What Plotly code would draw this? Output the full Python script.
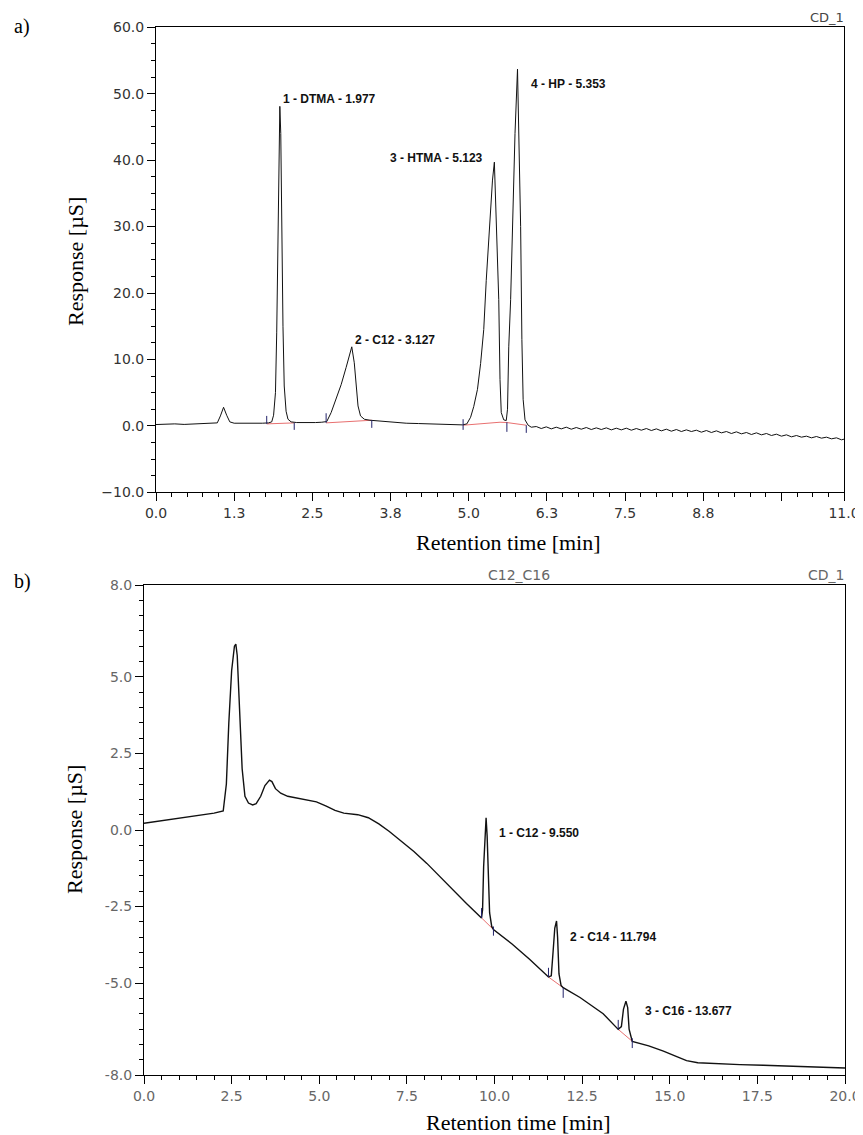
import plotly.graph_objects as go

# ---------------- DATA ----------------
# Panel a) chromatogram (retention time [min], response [uS])
a_time = [0.00, 0.15, 0.30, 0.45, 0.60, 0.75, 0.90, 0.98, 1.03, 1.08, 1.13, 1.18, 1.25, 1.40, 1.55, 1.70,
          1.80, 1.85, 1.88, 1.91, 1.93, 1.95, 1.97, 1.98, 1.995, 2.01, 2.03, 2.05, 2.08, 2.11, 2.16, 2.25,
          2.40, 2.55, 2.65, 2.73, 2.80, 2.88, 2.96, 3.04, 3.10, 3.13, 3.17, 3.20, 3.23, 3.27, 3.33, 3.42,
          3.55, 3.70, 3.85, 4.00, 4.20, 4.40, 4.60, 4.80, 4.90, 4.97, 5.03, 5.08, 5.14, 5.19, 5.24, 5.28,
          5.33, 5.38, 5.41, 5.43, 5.46, 5.48, 5.50, 5.52, 5.56, 5.60, 5.62, 5.64, 5.67, 5.70, 5.74, 5.78,
          5.80, 5.83, 5.85, 5.87, 5.90, 5.95, 6.00,
          6.08, 6.16, 6.24, 6.32, 6.40, 6.48, 6.56, 6.64, 6.72, 6.80, 6.88, 6.96, 7.04, 7.12, 7.20, 7.28,
          7.36, 7.44, 7.52, 7.60, 7.68, 7.76, 7.84, 7.92, 8.00, 8.08, 8.16, 8.24, 8.32, 8.40, 8.48, 8.56,
          8.64, 8.72, 8.80, 8.88, 8.96, 9.04, 9.12, 9.20, 9.28, 9.36, 9.44, 9.52, 9.60, 9.68, 9.76, 9.84,
          9.92, 10.00, 10.08, 10.16, 10.24, 10.32, 10.40, 10.48, 10.56, 10.64, 10.72, 10.80, 10.88, 10.96, 11.00]
a_resp = [0.20, 0.25, 0.30, 0.22, 0.28, 0.30, 0.35, 0.45, 1.50, 2.80, 1.60, 0.60, 0.40, 0.38, 0.42, 0.40,
          0.45, 0.60, 1.60, 5.0, 14.0, 30.0, 44.0, 48.1, 44.0, 30.0, 15.0, 6.0, 2.2, 1.0, 0.6, 0.5,
          0.45, 0.5, 0.55, 0.65, 2.0, 4.0, 6.2, 8.8, 11.0, 11.9, 9.5, 6.5, 3.0, 1.5, 1.0, 0.85,
          0.75, 0.65, 0.50, 0.40, 0.35, 0.30, 0.25, 0.20, 0.15, 0.30, 1.3, 2.9, 5.5, 9.4, 14.5, 21.9,
          30.0, 37.0, 39.7, 34.0, 26.0, 19.0, 7.0, 2.0, 0.9, 0.8, 2.5, 11.9, 19.0, 30.0, 44.0, 53.7,
          46.0, 30.0, 13.0, 4.0, 0.9, 0.1, -0.2,
          -0.10, -0.40, -0.15, -0.45, -0.20, -0.45, -0.20, -0.50, -0.25, -0.50, -0.25, -0.55, -0.30, -0.55, -0.30, -0.60,
          -0.35, -0.60, -0.35, -0.65, -0.40, -0.65, -0.40, -0.70, -0.45, -0.75, -0.50, -0.80, -0.55, -0.85, -0.60, -0.85,
          -0.65, -0.95, -0.70, -1.00, -0.75, -1.05, -0.85, -1.15, -0.90, -1.20, -1.00, -1.30, -1.05, -1.35, -1.15, -1.45,
          -1.25, -1.55, -1.35, -1.65, -1.45, -1.70, -1.55, -1.80, -1.60, -1.85, -1.70, -1.95, -1.80, -2.10, -2.00]

# integration baselines (red) for panel a), segments separated by None
a_base_t = [1.77, 2.21, None, 2.72, 3.45, None, 4.91, 5.50, 5.61, 5.92]
a_base_v = [0.30, 0.45, None, 0.45, 0.85, None, 0.10, 0.55, 0.50, 0.10]
# peak delimiter ticks for panel a): time, from, to
a_mark_t = [1.77, 2.21, 2.72, 3.45, 4.91, 5.61, 5.92]
a_mark_v0 = [0.3, 0.45, 0.45, 0.85, -0.6, 0.55, 0.1]
a_mark_v1 = [1.5, -0.6, 1.9, -0.3, 1.0, -0.9, -1.05]

a_labels = ["1 - DTMA - 1.977", "2 - C12 - 3.127", "3 - HTMA - 5.123", "4 - HP - 5.353"]
a_label_x = [2.00, 3.15, 5.26, 5.97]
a_label_y = [49.2, 13.0, 40.3, 51.5]
a_label_anchor = ["left", "left", "right", "left"]

a_xtickvals = [0, 1.25, 2.5, 3.75, 5.0, 6.25, 7.5, 8.75, 10.0, 11.0]
a_xticktext = ["0.0", "1.3", "2.5", "3.8", "5.0", "6.3", "7.5", "8.8", "", "11.0"]

# Panel b) chromatogram
b_time = [0.00, 0.50, 1.00, 1.50, 2.00, 2.26, 2.35, 2.42, 2.50, 2.58, 2.62, 2.66, 2.72, 2.80, 2.88, 2.98,
          3.10, 3.20, 3.33, 3.45, 3.58, 3.65, 3.75, 3.90, 4.10, 4.45, 4.92, 5.20, 5.45, 5.70, 6.10, 6.40,
          6.70, 7.00, 7.30, 7.70, 8.07, 8.40, 8.73, 9.20, 9.63, 9.66, 9.69, 9.72, 9.76, 9.79, 9.82, 9.86,
          9.92, 9.97, 10.50, 11.00, 11.54, 11.62, 11.67, 11.72, 11.77, 11.80, 11.84, 11.90, 11.96, 12.44,
          13.10, 13.53, 13.62, 13.68, 13.75, 13.80, 13.84, 13.90, 13.93, 14.40, 14.82, 15.20, 15.48, 15.80,
          16.24, 17.00, 17.67, 18.50, 19.30, 20.00]
b_resp = [0.22, 0.30, 0.38, 0.45, 0.55, 0.62, 1.5, 3.5, 5.2, 6.0, 6.07, 5.7, 4.0, 2.0, 1.1, 0.88,
          0.82, 0.86, 1.10, 1.45, 1.63, 1.58, 1.35, 1.20, 1.10, 1.02, 0.92, 0.78, 0.64, 0.55, 0.50, 0.40,
          0.20, -0.05, -0.33, -0.70, -1.09, -1.48, -1.85, -2.40, -2.87, -2.6, -1.2, -0.3, 0.40, -0.2, -1.3, -2.7,
          -3.15, -3.25, -3.72, -4.22, -4.80, -4.76, -4.0, -3.2, -2.97, -3.5, -4.7, -5.08, -5.15, -5.47,
          -6.00, -6.51, -6.42, -5.85, -5.59, -5.8, -6.5, -6.85, -6.90, -7.05, -7.22, -7.40, -7.53, -7.60,
          -7.63, -7.66, -7.68, -7.72, -7.75, -7.77]

b_base_t = [9.63, 9.97, None, 11.54, 11.96, None, 13.53, 13.93]
b_base_v = [-2.87, -3.25, None, -4.80, -5.15, None, -6.51, -6.90]
b_mark_t = [9.63, 9.97, 11.54, 11.96, 13.53, 13.93]
b_mark_v0 = [-2.87, -3.15, -4.80, -5.15, -6.51, -6.80]
b_mark_v1 = [-2.55, -3.45, -4.50, -5.48, -6.20, -7.12]

b_labels = ["1 - C12 - 9.550", "2 - C14 - 11.794", "3 - C16 - 13.677"]
b_label_x = [10.06, 12.10, 14.24]
b_label_y = [-0.09, -3.49, -5.92]

b_ytickvals = [-8, -5, -2.5, 0, 2.5, 5, 8]
b_yticktext = ["-8.0", "-5.0", "-2.5", "0.0", "2.5", "5.0", "8.0"]

# ---------------- FIGURE ----------------
# the page body has an 8 px margin, so the figure is drawn 8 px in from the window edge
OFF = 8
W, H = 863 - OFF, 1135 - OFF


def px_x(p):
    return (p - OFF) / W


def px_y(p):
    return 1 - (p - OFF) / H


def seg(ts, v0s, v1s):
    xs, ys = [], []
    for t, a, b in zip(ts, v0s, v1s):
        xs += [t, t, None]
        ys += [a, b, None]
    return xs, ys


fig = go.Figure()

fig.add_trace(go.Scatter(x=a_base_t, y=a_base_v, mode="lines", line=dict(color="#e87070", width=1),
                         xaxis="x", yaxis="y", hoverinfo="skip", connectgaps=False))
fig.add_trace(go.Scatter(x=a_time, y=a_resp, mode="lines", line=dict(color="#111111", width=1),
                         xaxis="x", yaxis="y"))
mx, my = seg(a_mark_t, a_mark_v0, a_mark_v1)
fig.add_trace(go.Scatter(x=mx, y=my, mode="lines", line=dict(color="#22226a", width=1),
                         xaxis="x", yaxis="y", hoverinfo="skip"))

fig.add_trace(go.Scatter(x=b_base_t, y=b_base_v, mode="lines", line=dict(color="#e87070", width=1),
                         xaxis="x2", yaxis="y2", hoverinfo="skip", connectgaps=False))
fig.add_trace(go.Scatter(x=b_time, y=b_resp, mode="lines", line=dict(color="#111111", width=1.4),
                         xaxis="x2", yaxis="y2"))
mx, my = seg(b_mark_t, b_mark_v0, b_mark_v1)
fig.add_trace(go.Scatter(x=mx, y=my, mode="lines", line=dict(color="#22226a", width=1),
                         xaxis="x2", yaxis="y2", hoverinfo="skip"))

tickfont = dict(family="DejaVu Sans, Verdana", size=14, color="#333333")
tickfont_b = dict(family="DejaVu Sans, Verdana", size=14, color="#666666")
common = dict(showline=True, linecolor="black", linewidth=1, mirror=True, ticks="outside",
              ticklen=8, tickcolor="black", showgrid=False, zeroline=False, automargin=False)

fig.update_layout(
    width=W, height=H, margin=dict(l=0, r=0, t=0, b=0),
    paper_bgcolor="white", plot_bgcolor="white", showlegend=False,
    xaxis=dict(domain=[px_x(156), px_x(844)], range=[0, 11], anchor="y",
               tickmode="array", tickvals=a_xtickvals, ticktext=a_xticktext, tickfont=tickfont,
               minor=dict(tickmode="linear", tick0=0, dtick=0.25, ticks="outside", ticklen=4,
                          tickcolor="black"), **common),
    yaxis=dict(domain=[px_y(492.3), px_y(27.3)], range=[-10, 60], anchor="x",
               tickmode="linear", tick0=0, dtick=10, tickformat=".1f", tickfont=tickfont,
               minor=dict(tickmode="linear", tick0=0, dtick=2.5, ticks="outside", ticklen=4,
                          tickcolor="black"), **common),
    xaxis2=dict(domain=[px_x(144), px_x(845)], range=[0, 20], anchor="y2",
                tickmode="linear", tick0=0, dtick=2.5, tickformat=".1f", tickfont=tickfont_b,
                minor=dict(tickmode="linear", tick0=0, dtick=0.5, ticks="outside", ticklen=4,
                           tickcolor="black"), **common),
    yaxis2=dict(domain=[px_y(1075), px_y(585)], range=[-8, 8], anchor="x2",
                tickmode="array", tickvals=b_ytickvals, ticktext=b_yticktext, tickfont=tickfont_b,
                minor=dict(tickmode="linear", tick0=0, dtick=0.5, ticks="outside", ticklen=4,
                           tickcolor="black"), **common),
)

ann = []
lblfont = dict(family="Liberation Sans, Arial", size=12, color="#111111")
for t, x, y, anc in zip(a_labels, a_label_x, a_label_y, a_label_anchor):
    ann.append(dict(text="<b>" + t + "</b>", x=x, y=y, xref="x", yref="y", xanchor=anc,
                    yanchor="middle", showarrow=False, font=lblfont))
for t, x, y in zip(b_labels, b_label_x, b_label_y):
    ann.append(dict(text="<b>" + t + "</b>", x=x, y=y, xref="x2", yref="y2", xanchor="left",
                    yanchor="middle", showarrow=False, font=lblfont))

serif = dict(family="Liberation Serif, Times New Roman", size=22, color="black")
serif_lbl = dict(family="Liberation Serif, Times New Roman", size=20, color="black")
small = dict(family="DejaVu Sans, Verdana", size=13, color="#444444")
small_b = dict(family="DejaVu Sans, Verdana", size=14, color="#666666")
ann += [
    dict(text="a)", x=px_x(12), y=px_y(26), xref="paper", yref="paper", xanchor="left",
         yanchor="middle", showarrow=False, font=serif_lbl),
    dict(text="b)", x=px_x(12), y=px_y(581), xref="paper", yref="paper", xanchor="left",
         yanchor="middle", showarrow=False, font=serif_lbl),
    dict(text="Response [µS]", x=px_x(76), y=px_y(262), xref="paper", yref="paper", textangle=-90,
         xanchor="center", yanchor="middle", showarrow=False, font=serif),
    dict(text="Response [µS]", x=px_x(74), y=px_y(830), xref="paper", yref="paper", textangle=-90,
         xanchor="center", yanchor="middle", showarrow=False, font=serif),
    dict(text="Retention time [min]", x=px_x(508), y=px_y(543), xref="paper", yref="paper",
         xanchor="center", yanchor="middle", showarrow=False, font=serif),
    dict(text="Retention time [min]", x=px_x(518), y=px_y(1122), xref="paper", yref="paper",
         xanchor="center", yanchor="middle", showarrow=False, font=serif),
    dict(text="CD_1", x=px_x(846), y=px_y(17), xref="paper", yref="paper", xanchor="right",
         yanchor="middle", showarrow=False, font=small),
    dict(text="CD_1", x=px_x(846), y=px_y(575), xref="paper", yref="paper", xanchor="right",
         yanchor="middle", showarrow=False, font=small_b),
    dict(text="C12_C16", x=px_x(519), y=px_y(575), xref="paper", yref="paper", xanchor="center",
         yanchor="middle", showarrow=False, font=small_b),
]
fig.update_layout(annotations=ann)

fig.write_html("out.html")
